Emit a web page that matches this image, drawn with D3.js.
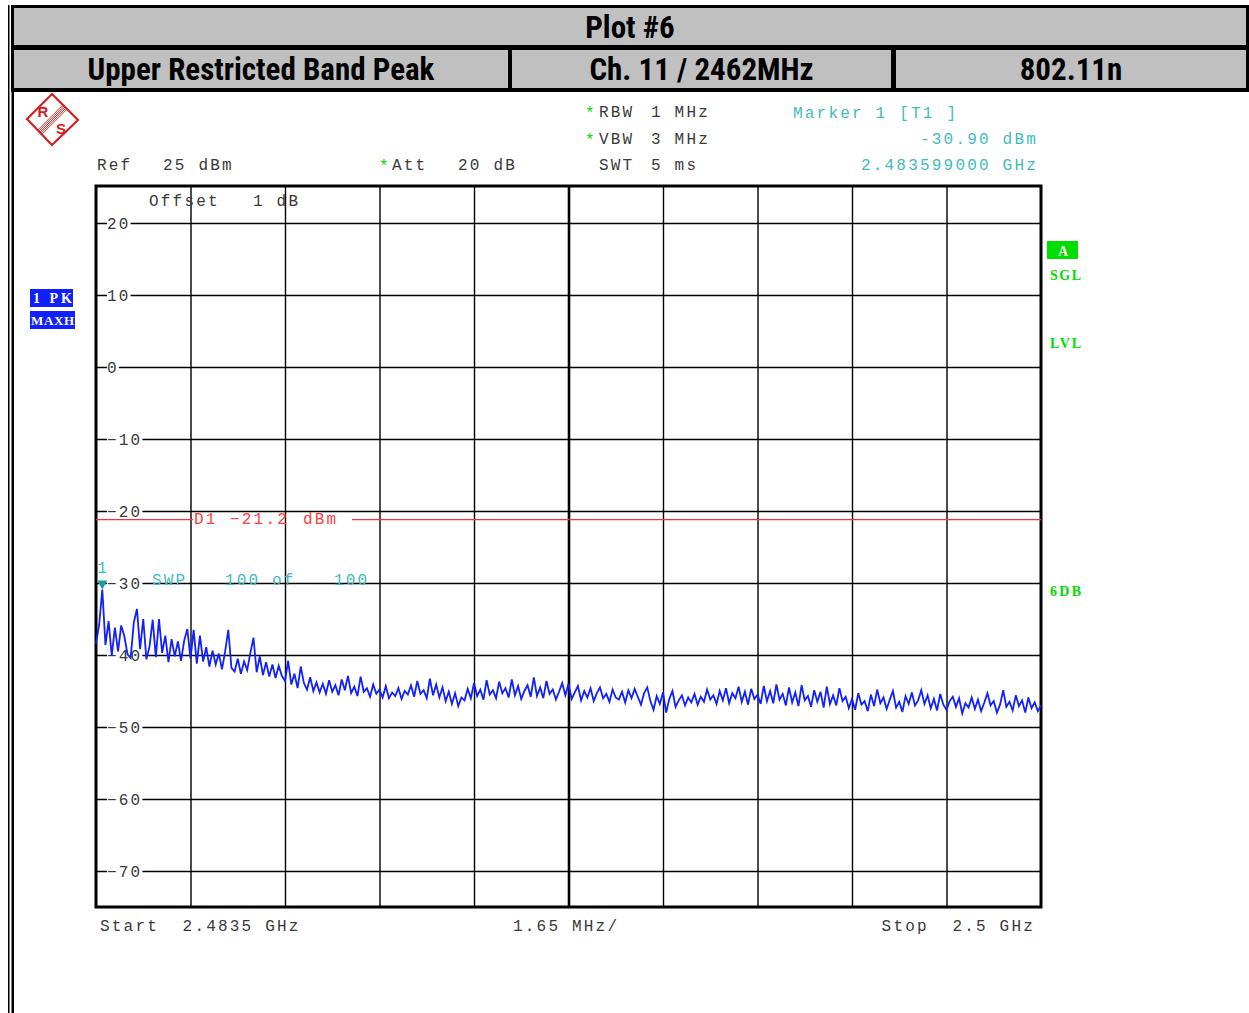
<!DOCTYPE html>
<html><head><meta charset="utf-8">
<script src="https://cdn.jsdelivr.net/npm/d3@7/dist/d3.min.js"></script>
<style>
html,body{margin:0;padding:0;background:#fff;}
svg{display:block;}
.mono{font-family:"Liberation Mono","DejaVu Sans Mono",monospace;font-size:16px;letter-spacing:2.2px;white-space:pre;}
.hdr{font-family:"Liberation Sans Narrow","Roboto Condensed","Liberation Sans",sans-serif;font-weight:bold;font-size:31px;}
.tag{font-family:"Liberation Serif","DejaVu Serif",serif;font-weight:bold;}
</style></head><body>
<svg id="c" width="1249" height="1013"></svg>
<script>
// ---------------- data ----------------
const titleText = "Plot #6";
const headerCells = ["Upper Restricted Band Peak", "Ch. 11 / 2462MHz", "802.11n"];
const startHz = 2.4835e9, stopHz = 2.5e9;
const refLevel = 25, bottomLevel = -75;
const yTickValues = [20, 10, 0, -10, -20, -30, -40, -50, -60, -70];
const xDivisions = 10;
const displayLineDbm = -21.2;
const markerLabel = ["Marker 1 [T1 ]", "-30.90 dBm", "2.483599000 GHz"];
const infoLeft = [["Ref", "25 dBm"], ["Att", "20 dB"]];
const settings = [["RBW", "1 MHz", true], ["VBW", "3 MHz", true], ["SWT", "5 ms", false]];
const footer = ["Start  2.4835 GHz", "1.65 MHz/", "Stop  2.5 GHz"];
const traceDbm = [
 -38.4,-35.8,-30.9,-38.6,-35.3,-40.1,-36.2,-39.5,-35.9,-37.4,
 -39.9,-40.4,-35.5,-33.6,-39.2,-35.0,-40.6,-38.8,-35.1,-40.3,
 -35.0,-39.7,-37.3,-41.0,-37.8,-40.2,-38.1,-40.8,-38.0,-36.4,
 -40.5,-36.5,-41.2,-37.3,-40.9,-38.9,-41.6,-39.4,-41.3,-39.8,
 -42.0,-39.5,-36.5,-41.8,-42.3,-40.5,-42.6,-40.9,-42.1,-39.7,
 -37.6,-42.4,-40.2,-42.8,-41.0,-43.0,-41.3,-43.2,-41.5,-42.9,
 -43.6,-40.8,-44.1,-42.6,-44.6,-41.6,-43.9,-44.8,-43.1,-45.0,
 -43.8,-45.2,-44.0,-45.4,-43.5,-45.1,-44.2,-45.6,-43.4,-44.9,
 -42.9,-45.3,-44.4,-45.7,-43.0,-45.1,-44.6,-45.8,-44.1,-45.4,
 -44.8,-45.9,-44.3,-46.0,-45.2,-45.7,-44.6,-46.1,-45.0,-45.5,
 -44.2,-45.8,-43.6,-45.4,-44.9,-46.0,-43.3,-45.6,-44.1,-45.9,
 -44.5,-46.4,-45.1,-46.8,-45.3,-47.1,-45.9,-46.3,-44.7,-46.0,
 -43.9,-45.7,-44.8,-46.2,-43.5,-45.5,-44.9,-46.0,-43.7,-45.3,
 -44.6,-45.9,-43.4,-45.6,-44.3,-46.1,-45.0,-44.2,-45.8,-43.1,
 -45.7,-44.5,-46.0,-43.6,-45.4,-44.8,-46.2,-45.1,-43.9,-45.6,
 -44.0,-46.1,-45.2,-44.3,-46.3,-45.0,-45.9,-44.6,-46.4,-45.3,
 -44.5,-46.0,-45.4,-46.5,-44.8,-45.9,-46.2,-45.1,-46.6,-44.9,
 -46.0,-44.7,-45.8,-46.9,-45.3,-44.5,-46.4,-47.6,-45.7,-46.8,
 -45.2,-48.0,-46.1,-45.0,-47.2,-46.3,-45.6,-47.0,-45.9,-46.6,
 -45.4,-46.9,-45.8,-46.5,-44.8,-46.2,-45.6,-46.8,-45.0,-46.3,
 -44.6,-46.7,-45.3,-46.0,-44.4,-46.5,-45.1,-46.9,-44.7,-46.1,
 -45.5,-46.8,-44.3,-46.4,-45.0,-46.7,-44.1,-46.2,-45.4,-47.0,
 -44.5,-46.6,-45.2,-47.1,-44.2,-46.3,-45.7,-47.2,-44.9,-46.5,
 -45.1,-47.3,-44.4,-46.8,-45.6,-47.0,-44.6,-46.4,-45.8,-47.4,
 -46.1,-47.6,-45.3,-46.9,-46.4,-47.8,-45.5,-47.1,-44.8,-46.7,
 -45.9,-47.5,-46.2,-45.0,-47.3,-46.5,-47.9,-45.7,-46.8,-45.2,
 -47.0,-46.3,-44.9,-46.8,-45.6,-47.4,-46.1,-47.7,-45.4,-46.9,
 -47.6,-46.4,-45.8,-47.2,-46.0,-48.1,-46.7,-47.3,-45.9,-47.5,
 -46.2,-47.8,-46.6,-45.3,-47.0,-46.4,-48.0,-46.9,-44.9,-47.2,
 -46.5,-47.7,-45.6,-47.1,-46.3,-48.0,-45.9,-47.4,-46.6,-47.8,-47.0
];

// ---------------- layout ----------------
const svg = d3.select("#c");
const L = 96, R = 1041, T = 187, B = 907;
const x = d3.scaleLinear().domain([startHz, stopHz]).range([L, R]);
const y = d3.scaleLinear().domain([bottomLevel, refLevel]).range([B, T]);
const GRAY = "#c0c0c0", TEAL = "#3fbcbc", TXT = "#3a3a3a", GREEN = "#00dd00", BLUE = "#1020ff";

// header
svg.append("rect").attr("x", 11).attr("y", 5).attr("width", 1238).attr("height", 87).attr("fill", "#000");
svg.append("rect").attr("x", 14).attr("y", 8).attr("width", 1232).attr("height", 37).attr("fill", GRAY);
const cells = [[14, 508], [512, 891], [896, 1246]];
cells.forEach((c, i) => {
  svg.append("rect").attr("x", c[0]).attr("y", 50).attr("width", c[1] - c[0]).attr("height", 38).attr("fill", GRAY);
  svg.append("text").attr("class", "hdr").attr("x", (c[0] + c[1]) / 2).attr("y", 80)
    .attr("text-anchor", "middle").text(headerCells[i]);
});
svg.append("text").attr("class", "hdr").attr("x", 630).attr("y", 38).attr("text-anchor", "middle").text(titleText);
// left double border
svg.append("rect").attr("x", 8).attr("y", 5).attr("width", 1.5).attr("height", 1008).attr("fill", "#000");
svg.append("rect").attr("x", 11.5).attr("y", 5).attr("width", 2.5).attr("height", 1008).attr("fill", "#000");

// logo
const lg = svg.append("g").attr("transform", "translate(52,119)");
lg.append("path").attr("d", "M0,-25 L26,1 L0,26 L-25,0 Z").attr("fill", "none").attr("stroke", "#d42020").attr("stroke-width", 2.2);
[-3, -1.5, 0, 1.5, 3].forEach(o => lg.append("line")
  .attr("x1", -12 + o * 0.7).attr("y1", 13 + o * 0.7).attr("x2", 13 + o * 0.7).attr("y2", -12 + o * 0.7)
  .attr("stroke", "#d42020").attr("stroke-width", 0.9));
lg.append("text").attr("x", -9).attr("y", -2).attr("text-anchor", "middle").attr("fill", "#d42020")
  .attr("font-family", "Liberation Sans,sans-serif").attr("font-size", 15).attr("font-weight", "bold").text("R");
lg.append("text").attr("x", 9).attr("y", 15).attr("text-anchor", "middle").attr("fill", "#d42020")
  .attr("font-family", "Liberation Sans,sans-serif").attr("font-size", 15).attr("font-weight", "bold").text("S");

// info texts
function mono(xp, yp, s, col, anchor) {
  return svg.append("text").attr("class", "mono").attr("x", xp).attr("y", yp)
    .attr("fill", col || TXT).attr("text-anchor", anchor || "start").text(s);
}
mono(97, 170, infoLeft[0][0]); mono(163, 170, infoLeft[0][1]);
mono(379, 171, "*", GREEN); mono(392, 170, infoLeft[1][0]); mono(458, 170, infoLeft[1][1]);
settings.forEach((s, i) => {
  const yy = 117 + i * 26.5;
  if (s[2]) mono(585, yy + 1, "*", GREEN);
  mono(599, yy, s[0]); mono(651, yy, s[1]);
});
mono(793, 118, markerLabel[0], TEAL);
mono(1038, 144, markerLabel[1], TEAL, "end");
mono(1038, 170, markerLabel[2], TEAL, "end");

// left / right tags
svg.append("rect").attr("x", 30).attr("y", 289).attr("width", 43).attr("height", 18).attr("fill", BLUE);
svg.append("rect").attr("x", 30).attr("y", 311).attr("width", 45).attr("height", 18).attr("fill", BLUE);
svg.append("svg").attr("x", 30).attr("y", 289).attr("width", 43).attr("height", 18)
  .append("text").attr("class", "tag").attr("x", 3).attr("y", 14).attr("fill", "#fff")
  .style("font-size", "14px").style("letter-spacing", "3px").text("1 PK");
svg.append("text").attr("class", "tag").attr("x", 31).attr("y", 325).attr("fill", "#fff")
  .style("font-size", "13px").attr("textLength", 43).text("MAXH");
svg.append("rect").attr("x", 1047).attr("y", 241).attr("width", 31).attr("height", 18).attr("fill", GREEN);
svg.append("text").attr("class", "tag").attr("x", 1063).attr("y", 256).attr("fill", "#fff")
  .attr("text-anchor", "middle").style("font-size", "14px").text("A");
[["SGL", 280], ["LVL", 348], ["6DB", 596]].forEach(t =>
  svg.append("text").attr("class", "tag").attr("x", 1050).attr("y", t[1]).attr("fill", GREEN)
    .style("font-size", "14px").attr("textLength", 31).text(t[0]));

// grid: horizontal via axis
const yAxis = d3.axisRight(y).tickValues(yTickValues).tickSize(R - L).tickFormat("");
const gy = svg.append("g").attr("transform", `translate(${L},0)`).call(yAxis);
gy.select(".domain").remove();
gy.selectAll(".tick line").attr("stroke", "#000").attr("stroke-width", 1.4);
// label breaks
yTickValues.forEach(v => {
  const s = v < 0 ? "\u2212" + Math.abs(v) : String(v);
  const w = s.length * 11.8;
  svg.append("rect").attr("x", 107).attr("y", y(v) - 3).attr("width", w).attr("height", 6).attr("fill", "#fff");
  mono(107, y(v) + 5.5, s, TXT);
});
// vertical grid via axis
const gridFreqs = d3.range(1, xDivisions).map(k => startHz + k * (stopHz - startHz) / xDivisions);
const xAxis = d3.axisBottom(x).tickValues(gridFreqs).tickSize(B - T).tickFormat("");
const gx = svg.append("g").attr("transform", `translate(0,${T})`).call(xAxis);
gx.select(".domain").remove();
gx.selectAll(".tick line").attr("stroke", "#000").attr("stroke-width", (d, i) => i === 4 ? 2.6 : 1.4);

// frame
svg.append("rect").attr("x", L).attr("y", T - 1).attr("width", R - L).attr("height", B - T + 1)
  .attr("fill", "none").attr("stroke", "#000").attr("stroke-width", 3);

// texts inside plot
mono(149, 206, "Offset", TXT); mono(253, 206, "1 dB", TXT);
mono(152, 585, "SWP", TEAL); mono(225, 585, "100", TEAL); mono(272, 585, "of", TEAL); mono(334, 585, "100", TEAL);

// display line D1
const dY = y(displayLineDbm);
svg.append("line").attr("x1", L).attr("x2", 193).attr("y1", dY).attr("y2", dY).attr("stroke", "#ff3030").attr("stroke-width", 1.4);
svg.append("line").attr("x1", 352).attr("x2", R).attr("y1", dY).attr("y2", dY).attr("stroke", "#ff3030").attr("stroke-width", 1.4);
mono(194, dY + 4, "D1", "#ff4040"); mono(230, dY + 4, "\u221221.2", "#ff4040"); mono(303, dY + 4, "dBm", "#ff4040");

// trace
const n = traceDbm.length;
const pts = traceDbm.map((v, i) => [startHz + i * (stopHz - startHz) / (n - 1), v]);
svg.append("path").datum(pts)
  .attr("d", d3.line().x(d => x(d[0])).y(d => y(d[1])))
  .attr("fill", "none").attr("stroke", BLUE).attr("stroke-width", 1.8).attr("stroke-linejoin", "miter");

// marker
const mi = d3.maxIndex(traceDbm);
const mx = x(pts[mi][0]), my = y(pts[mi][1]);
svg.append("path").attr("d", `M${mx - 5},${my - 9} L${mx + 5},${my - 9} L${mx},${my} Z`).attr("fill", "#18a0a0");
mono(mx - 5, my - 16, "1", TEAL);

// footer
mono(100, 931, footer[0]); mono(513, 931, footer[1]); mono(1035, 931, footer[2], TXT, "end");
</script>
</body></html>
